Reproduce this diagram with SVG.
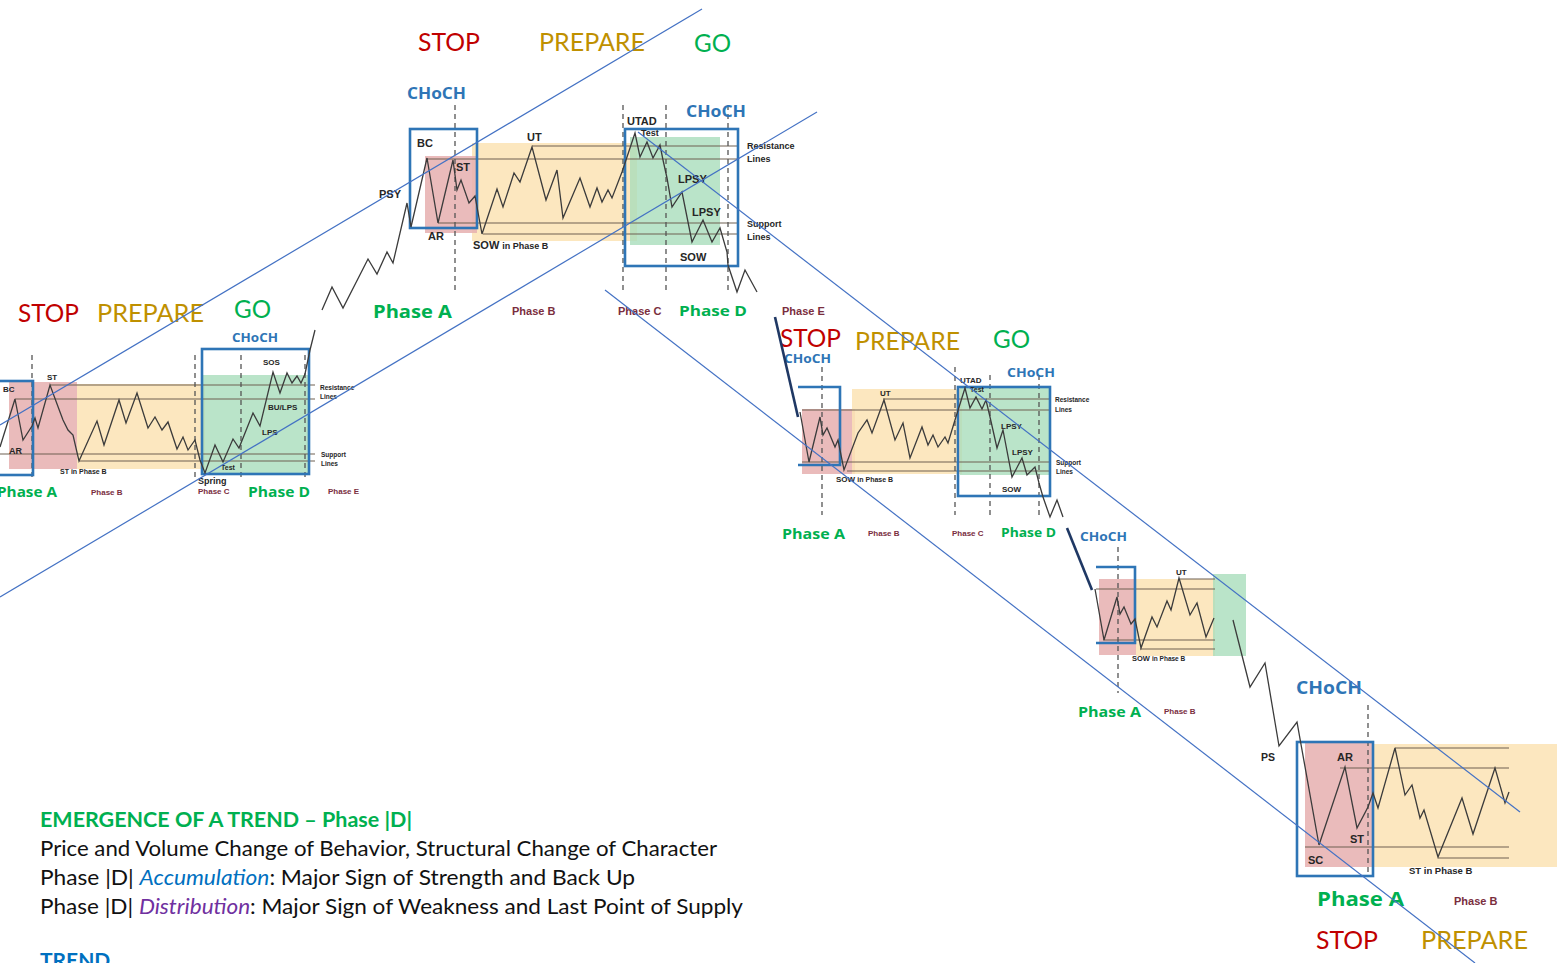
<svg xmlns="http://www.w3.org/2000/svg" width="1557" height="963" viewBox="0 0 1557 963">
<style>
.pr{fill:none;stroke:#3b3b3b;stroke-width:1.3;stroke-linejoin:miter}
.hl{stroke:#6e6152;stroke-width:1.2}
.dv{stroke:#555;stroke-width:1.3;stroke-dasharray:5 4}
.bx{fill:none;stroke:#2E75B6;stroke-width:2.6}
.tl{stroke:#4472C4;stroke-width:1.2}
.dk{stroke:#1F3864;stroke-width:2.6}
.rf{fill:#E6AFAF;opacity:0.85}
.yf{fill:#FBE3B4;opacity:0.85}
.gf{fill:#A9DDBB;opacity:0.8}
.lb{font-family:"Liberation Sans",Arial,sans-serif;font-weight:bold;fill:#262626}
.pb{font-family:"Liberation Sans",Arial,sans-serif;font-weight:bold;fill:#7A2E3E}
.pa{font-family:"Open Sans","Liberation Sans",sans-serif;font-weight:bold;fill:#00B050}
.ch{font-family:"Open Sans","Liberation Sans",sans-serif;font-weight:bold;fill:#2E75B6}
.big{font-family:"Lato","Liberation Sans",sans-serif;font-size:25px}
.stop{fill:#C00000}.prep{fill:#BF9000}.go{fill:#00B050}
.tx{font-family:"Lato","Liberation Sans",sans-serif;font-size:21px;fill:#111}
</style>
<rect width="1557" height="963" fill="#fff"/>

<g id="schematic1">
<rect class="rf" x="9" y="382" width="68" height="87"/>
<rect class="yf" x="77" y="384" width="128" height="85"/>
<rect class="gf" x="202" y="375" width="106" height="98"/>
<line class="hl" x1="50" y1="385" x2="315" y2="385"/>
<line class="hl" x1="15" y1="399" x2="315" y2="399"/>
<line class="hl" x1="0" y1="454" x2="315" y2="454"/>
<line class="hl" x1="79" y1="461" x2="315" y2="461"/>
<line class="dv" x1="32" y1="355" x2="32" y2="477"/>
<line class="dv" x1="195" y1="355" x2="195" y2="477"/>
<line class="dv" x1="241" y1="355" x2="241" y2="477"/>
<line class="dv" x1="305" y1="355" x2="305" y2="477"/>
<rect class="bx" x="-10" y="381" width="43" height="94"/>
<rect class="bx" x="202" y="349" width="107" height="125"/>
<text class="lb" x="3" y="392" font-size="8">BC</text>
<text class="lb" x="47" y="380" font-size="8">ST</text>
<text class="lb" x="9" y="454" font-size="9">AR</text>
<text class="lb" x="60" y="474" font-size="7">ST in Phase B</text>
<text class="lb" x="263" y="365" font-size="8">SOS</text>
<text class="lb" x="268" y="410" font-size="8">BU/LPS</text>
<text class="lb" x="262" y="435" font-size="8">LPS</text>
<text class="lb" x="221" y="470" font-size="7">Test</text>
<text class="lb" x="198" y="484" font-size="9">Spring</text>
<text class="lb" x="320" y="390" font-size="6.5">Resistance</text>
<text class="lb" x="320" y="399" font-size="6.5">Lines</text>
<text class="lb" x="321" y="457" font-size="6.5">Support</text>
<text class="lb" x="321" y="466" font-size="6.5">Lines</text>
<text class="pa" x="-3" y="497" font-size="14" textLength="60" lengthAdjust="spacingAndGlyphs">Phase A</text>
<text class="pb" x="91" y="495" font-size="8">Phase B</text>
<text class="pb" x="198" y="494" font-size="8">Phase C</text>
<text class="pa" x="248" y="497" font-size="14" textLength="62" lengthAdjust="spacingAndGlyphs">Phase D</text>
<text class="pb" x="328" y="494" font-size="8">Phase E</text>
<text class="ch" x="232" y="342" font-size="13" textLength="46" lengthAdjust="spacingAndGlyphs">CHoCH</text>
<text class="big stop" x="18" y="322" textLength="61" lengthAdjust="spacingAndGlyphs">STOP</text>
<text class="big prep" x="97" y="322" textLength="107" lengthAdjust="spacingAndGlyphs">PREPARE</text>
<text class="big go" x="234" y="318" textLength="37" lengthAdjust="spacingAndGlyphs">GO</text>
</g>

<g id="schematic2">
<rect class="yf" x="472" y="143" width="165" height="98"/>
<rect class="rf" x="425" y="156" width="52" height="77"/>
<rect class="gf" x="630" y="137" width="90" height="108"/>
<line class="hl" x1="532" y1="146" x2="737" y2="146"/>
<line class="hl" x1="426" y1="159" x2="737" y2="159"/>
<line class="hl" x1="438" y1="223" x2="737" y2="223"/>
<line class="hl" x1="483" y1="234" x2="737" y2="234"/>
<line class="dv" x1="455" y1="105" x2="455" y2="290"/>
<line class="dv" x1="623" y1="105" x2="623" y2="292"/>
<line class="dv" x1="666" y1="105" x2="666" y2="292"/>
<line class="dv" x1="728" y1="105" x2="728" y2="292"/>
<rect class="bx" x="410" y="129" width="67" height="99"/>
<rect class="bx" x="625" y="129" width="113" height="137"/>
<text class="lb" x="417" y="147" font-size="11">BC</text>
<text class="lb" x="456" y="171" font-size="11">ST</text>
<text class="lb" x="379" y="198" font-size="11">PSY</text>
<text class="lb" x="428" y="240" font-size="11">AR</text>
<text class="lb" x="527" y="141" font-size="11">UT</text>
<text class="lb" x="473" y="249" font-size="11">SOW <tspan font-size="9">in Phase B</tspan></text>
<text class="lb" x="627" y="125" font-size="11">UTAD</text>
<text class="lb" x="641" y="136" font-size="9">Test</text>
<text class="lb" x="747" y="149" font-size="9">Resistance</text>
<text class="lb" x="747" y="162" font-size="9">Lines</text>
<text class="lb" x="678" y="183" font-size="11">LPSY</text>
<text class="lb" x="692" y="216" font-size="11">LPSY</text>
<text class="lb" x="747" y="227" font-size="9">Support</text>
<text class="lb" x="747" y="240" font-size="9">Lines</text>
<text class="lb" x="680" y="261" font-size="11">SOW</text>
<text class="pa" x="373" y="318" font-size="18" textLength="79" lengthAdjust="spacingAndGlyphs">Phase A</text>
<text class="pb" x="512" y="315" font-size="11">Phase B</text>
<text class="pb" x="618" y="315" font-size="11">Phase C</text>
<text class="pa" x="679" y="316" font-size="15" textLength="68" lengthAdjust="spacingAndGlyphs">Phase D</text>
<text class="pb" x="782" y="315" font-size="11">Phase E</text>
<text class="ch" x="407" y="99" font-size="16" textLength="59" lengthAdjust="spacingAndGlyphs">CHoCH</text>
<text class="ch" x="686" y="117" font-size="16" textLength="60" lengthAdjust="spacingAndGlyphs">CHoCH</text>
<text class="big stop" x="418" y="51" textLength="62" lengthAdjust="spacingAndGlyphs">STOP</text>
<text class="big prep" x="539" y="51" textLength="106" lengthAdjust="spacingAndGlyphs">PREPARE</text>
<text class="big go" x="694" y="52" textLength="37" lengthAdjust="spacingAndGlyphs">GO</text>
</g>

<g id="schematic3">
<rect class="rf" x="802" y="409" width="53" height="65"/>
<rect class="yf" x="852" y="389" width="110" height="85"/>
<rect class="gf" x="960" y="388" width="90" height="87"/>
<line class="hl" x1="883" y1="399" x2="1050" y2="399"/>
<line class="hl" x1="802" y1="410" x2="1050" y2="410"/>
<line class="hl" x1="802" y1="462" x2="1050" y2="462"/>
<line class="hl" x1="847" y1="471" x2="1050" y2="471"/>
<line class="dv" x1="822" y1="367" x2="822" y2="515"/>
<line class="dv" x1="955" y1="367" x2="955" y2="515"/>
<line class="dv" x1="990" y1="375" x2="990" y2="515"/>
<line class="dv" x1="1039" y1="375" x2="1039" y2="515"/>
<path class="bx" d="M798,387 H840 V465 H798"/>
<rect class="bx" x="958" y="387" width="92" height="109"/>
<text class="lb" x="880" y="396" font-size="8">UT</text>
<text class="lb" x="836" y="482" font-size="8">SOW <tspan font-size="7">in Phase B</tspan></text>
<text class="lb" x="960" y="383" font-size="8">UTAD</text>
<text class="lb" x="970" y="392" font-size="7">Test</text>
<text class="lb" x="1055" y="402" font-size="6.5">Resistance</text>
<text class="lb" x="1055" y="412" font-size="6.5">Lines</text>
<text class="lb" x="1001" y="429" font-size="8">LPSY</text>
<text class="lb" x="1012" y="455" font-size="8">LPSY</text>
<text class="lb" x="1056" y="465" font-size="6.5">Support</text>
<text class="lb" x="1056" y="474" font-size="6.5">Lines</text>
<text class="lb" x="1002" y="492" font-size="8">SOW</text>
<text class="pa" x="782" y="539" font-size="14" textLength="63" lengthAdjust="spacingAndGlyphs">Phase A</text>
<text class="pb" x="868" y="536" font-size="8">Phase B</text>
<text class="pb" x="952" y="536" font-size="8">Phase C</text>
<text class="pa" x="1001" y="537" font-size="12.5" textLength="55" lengthAdjust="spacingAndGlyphs">Phase D</text>
<text class="ch" x="784" y="363" font-size="12" textLength="47" lengthAdjust="spacingAndGlyphs">CHoCH</text>
<text class="ch" x="1007" y="377" font-size="13" textLength="48" lengthAdjust="spacingAndGlyphs">CHoCH</text>
<text class="big stop" x="780" y="347" textLength="61" lengthAdjust="spacingAndGlyphs">STOP</text>
<text class="big prep" x="855" y="350" textLength="105" lengthAdjust="spacingAndGlyphs">PREPARE</text>
<text class="big go" x="993" y="348" textLength="37" lengthAdjust="spacingAndGlyphs">GO</text>
</g>

<g id="schematic4">
<rect class="rf" x="1099" y="579" width="37" height="76"/>
<rect class="yf" x="1136" y="579" width="79" height="77"/>
<rect class="gf" x="1213" y="574" width="33" height="82"/>
<line class="hl" x1="1180" y1="579" x2="1215" y2="579"/>
<line class="hl" x1="1096" y1="589" x2="1215" y2="589"/>
<line class="hl" x1="1103" y1="640" x2="1215" y2="640"/>
<line class="hl" x1="1140" y1="649" x2="1215" y2="649"/>
<line class="dv" x1="1118" y1="547" x2="1118" y2="693"/>
<path class="bx" d="M1096,567 H1135 V643 H1096"/>
<text class="lb" x="1176" y="575" font-size="8">UT</text>
<text class="lb" x="1132" y="661" font-size="7.5">SOW <tspan font-size="6.5">in Phase B</tspan></text>
<text class="pa" x="1078" y="717" font-size="14" textLength="63" lengthAdjust="spacingAndGlyphs">Phase A</text>
<text class="pb" x="1164" y="714" font-size="8">Phase B</text>
<text class="ch" x="1080" y="541" font-size="13" textLength="47" lengthAdjust="spacingAndGlyphs">CHoCH</text>
</g>

<g id="schematic5">
<rect class="yf" x="1373" y="744" width="184" height="123"/>
<rect class="rf" x="1305" y="742" width="68" height="125"/>
<line class="hl" x1="1395" y1="748" x2="1509" y2="748"/>
<line class="hl" x1="1340" y1="768" x2="1509" y2="768"/>
<line class="hl" x1="1305" y1="847" x2="1509" y2="847"/>
<line class="hl" x1="1438" y1="858" x2="1509" y2="858"/>
<line class="dv" x1="1368" y1="705" x2="1368" y2="875"/>
<rect class="bx" x="1297" y="742" width="76" height="134"/>
<text class="lb" x="1261" y="761" font-size="10.5">PS</text>
<text class="lb" x="1337" y="761" font-size="11">AR</text>
<text class="lb" x="1350" y="843" font-size="11">ST</text>
<text class="lb" x="1308" y="864" font-size="11">SC</text>
<text class="lb" x="1409" y="874" font-size="9.5">ST in Phase B</text>
<text class="pa" x="1317" y="906" font-size="19" textLength="87" lengthAdjust="spacingAndGlyphs">Phase A</text>
<text class="pb" x="1454" y="905" font-size="11">Phase B</text>
<text class="ch" x="1296" y="694" font-size="17" textLength="66" lengthAdjust="spacingAndGlyphs">CHoCH</text>
<text class="big stop" x="1316" y="949" textLength="62" lengthAdjust="spacingAndGlyphs">STOP</text>
<text class="big prep" x="1421" y="949" textLength="107" lengthAdjust="spacingAndGlyphs">PREPARE</text>
</g>

<g id="connectors">
<path class="pr" d="M0,447 L15,399 L23,440 L32,426 L35,418 L38,428 L50,385 L60,412 L63,420 L68,430 L73,435 L79,461 L97,421 L104,445 L119,400 L126,423 L137,393 L148,428 L155,417 L162,430 L168,422 L177,449 L183,437 L188,450 L195,440 L200,460 L205,473 L215,445 L223,462 L233,439 L239,448 L253,413 L260,426 L273,372 L280,393 L287,373 L292,383 L297,376 L301,383 L305,374 L310,350 L315,330 M322,310 L332,287 L343,308 L368,259 L377,274 L387,252 L393,263 L407,203 L411,227 L427,158 L438,223 L453,160 L457,190 L461,180 L469,203 L475,196 L482,234 L497,189 L503,207 L514,173 L520,182 L532,147 L546,200 L557,170 L563,218 L580,178 L590,207 L597,188 L602,202 L608,190 L612,198 L622,172 L635,133 L640,157 L647,142 L653,158 L660,145 L663,160 L667,178 L672,207 L682,192 L692,242 L703,220 L712,242 L720,228 L727,252 L728,265 L737,292 L745,270 L757,292"/>
<path class="pr" d="M800,412 L809,462 L820,417 L823,435 L827,428 L835,447 L838,440 L844,470 L858,433 L867,420 L872,433 L884,400 L895,440 L903,423 L910,458 L922,427 L928,445 L933,435 L938,447 L945,437 L948,443 L955,420 L965,388 L970,408 L976,397 L982,409 L986,400 L990,417 L997,448 L1003,430 L1012,477 L1022,458 L1027,475 L1035,467 L1039,483 L1043,497 L1050,517 L1057,500 L1063,517"/>
<path class="pr" d="M1095,589 L1104,640 L1117,597 L1120,614 L1124,607 L1131,624 L1135,619 L1141,648 L1152,617 L1157,627 L1167,601 L1171,610 L1179,578 L1190,615 L1197,603 L1206,637 L1214,618"/>
<path class="pr" d="M1233,620 L1250,687 L1265,663 L1279,746 L1297,722 L1319,845 L1345,767 L1357,828 L1368,807 L1373,793 L1378,808 L1395,748 L1405,795 L1412,785 L1420,818 L1424,810 L1438,857 L1462,798 L1473,834 L1495,768 L1505,803 L1509,792"/>
<line class="dk" x1="775" y1="317" x2="798" y2="417"/>
<line class="dk" x1="1067" y1="528" x2="1092" y2="590"/>
<line class="tl" x1="0" y1="425" x2="702" y2="9"/>
<line class="tl" x1="0" y1="597" x2="817" y2="112"/>
<line class="tl" x1="605" y1="290" x2="1475" y2="963"/>
<line class="tl" x1="638" y1="132" x2="1520" y2="812"/>
</g>

<g id="notes">
<text x="40" y="827" font-family="Lato,'Liberation Sans',sans-serif" font-weight="bold" font-size="21" fill="#00B050" textLength="372" lengthAdjust="spacingAndGlyphs">EMERGENCE OF A TREND – Phase |D|</text>
<text class="tx" x="40" y="856" textLength="677" lengthAdjust="spacingAndGlyphs">Price and Volume Change of Behavior, Structural Change of Character</text>
<text class="tx" x="40" y="885" textLength="595" lengthAdjust="spacingAndGlyphs">Phase |D| <tspan fill="#0070C0" font-style="italic">Accumulation</tspan>: Major Sign of Strength and Back Up</text>
<text class="tx" x="40" y="914" textLength="703" lengthAdjust="spacingAndGlyphs">Phase |D| <tspan fill="#7030A0" font-style="italic">Distribution</tspan>: Major Sign of Weakness and Last Point of Supply</text>
<text x="40" y="968" font-family="Lato,'Liberation Sans',sans-serif" font-weight="bold" font-size="21" fill="#0070C0">TREND</text>
</g>
</svg>
